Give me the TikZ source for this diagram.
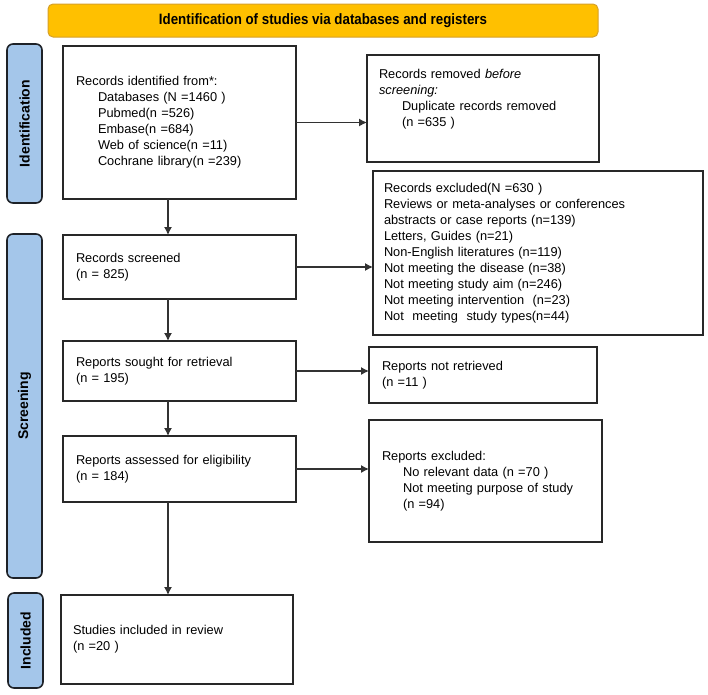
\documentclass[tikz,border=0pt]{standalone}
\usepackage{fontspec}
\setmainfont{Liberation Sans}
\usepackage{graphicx}
\usetikzlibrary{arrows.meta}
\definecolor{titlefill}{RGB}{255,192,0}
\definecolor{titledraw}{RGB}{214,160,40}
\definecolor{sidefill}{RGB}{164,198,234}
\definecolor{sidedraw}{RGB}{30,34,40}
\definecolor{boxdraw}{RGB}{40,40,40}
\definecolor{arrcol}{RGB}{50,50,50}
\begin{document}
\begin{tikzpicture}[x=1pt,y=-1pt,
  box/.style={draw=boxdraw, line width=1.5pt, fill=white, anchor=north west, align=left,
    outer sep=0pt, inner ysep=0pt, font=\fontsize{12.8}{16}\selectfont},
  side/.style={draw=sidedraw, fill=sidefill, line width=1.6pt, rounded corners=6pt,
    anchor=north west, outer sep=0pt, inner sep=0pt, minimum width=35pt,
    font=\fontsize{14}{16}\selectfont\bfseries},
  titlebox/.style={draw=titledraw, fill=titlefill, line width=1pt, rounded corners=5pt,
    minimum width=550pt, minimum height=33pt, inner sep=0pt},
  arr/.style={-{Latex[length=8pt,width=8pt]}, line width=1.2pt, arrcol}]
\useasboundingbox (0,0) rectangle (708,694);

\node[titlebox] (ttl) at (323,20.5) {\resizebox{328pt}{\height}{\fontsize{15}{18}\selectfont\bfseries Identification of studies via databases and registers}};

\node[side, minimum height=159pt] (sid) at (7,44) {\rotatebox{90}{Identification}};
\node[side, minimum height=344pt] (sscr) at (7,234) {\rotatebox{90}{Screening}};
\node[side, minimum height=95pt] (sinc) at (8,593) {\rotatebox{90}{Included}};

\node[box, minimum width=233pt, minimum height=153pt, text width=207pt, inner xsep=13pt] (b1) at (63,46)
  {Records identified from*:\\
   \hspace*{22pt}Databases (N =1460 )\\
   \hspace*{22pt}Pubmed(n =526)\\
   \hspace*{22pt}Embase(n =684)\\
   \hspace*{22pt}Web of science(n =11)\\
   \hspace*{22pt}Cochrane library(n =239)};

\node[box, minimum width=232pt, minimum height=107pt, text width=208pt, inner xsep=12pt] (rem) at (367,55)
  {Records removed \textit{before}\\
   \textit{screening:}\\
   \hspace*{23pt}Duplicate records removed\\
   \hspace*{23pt}(n =635 )\\
   \strut};

\node[box, minimum width=330pt, minimum height=164pt, text width=308pt, inner xsep=11pt] (exc) at (373,171)
  {Records excluded(N =630 )\\
   Reviews or meta-analyses or conferences\\
   abstracts or case reports (n=139)\\
   Letters, Guides (n=21)\\
   Non-English literatures (n=119)\\
   Not meeting the disease (n=38)\\
   Not meeting study aim (n=246)\\
   Not meeting intervention\ \ (n=23)\\
   Not\ \ meeting\ \ study types(n=44)};

\node[box, minimum width=233pt, minimum height=64pt, text width=207pt, inner xsep=13pt] (scr) at (63,235)
  {Records screened\\ (n = 825)};

\node[box, minimum width=233pt, minimum height=60pt, text width=207pt, inner xsep=13pt] (sou) at (63,341)
  {Reports sought for retrieval\\ (n = 195)};

\node[box, minimum width=228pt, minimum height=56pt, text width=202pt, inner xsep=13pt] (nr) at (369,347)
  {Reports not retrieved\\ (n =11 )};

\node[box, minimum width=233pt, minimum height=66pt, text width=207pt, inner xsep=13pt] (ass) at (63,436)
  {Reports assessed for eligibility\\ (n = 184)};

\node[box, minimum width=233pt, minimum height=122pt, text width=207pt, inner xsep=13pt] (rex) at (369,420)
  {Reports excluded:\\
   \hspace*{21pt}No relevant data (n =70 )\\
   \hspace*{21pt}Not meeting purpose of study\\
   \hspace*{21pt}(n =94)};

\node[box, minimum width=232pt, minimum height=89pt, text width=208pt, inner xsep=12pt] (inc) at (61,595)
  {Studies included in review\\ (n =20 )};

\coordinate (vx) at (168,0);
\draw[arr] (b1.east) -- (b1.east -| rem.west);
\draw[arr] (scr.east) -- (scr.east -| exc.west);
\draw[arr] (sou.east) -- (sou.east -| nr.west);
\draw[arr] (ass.east) -- (ass.east -| rex.west);
\draw[arr] (b1.south -| vx) -- (scr.north -| vx);
\draw[arr] (scr.south -| vx) -- (sou.north -| vx);
\draw[arr] (sou.south -| vx) -- (ass.north -| vx);
\draw[arr] (ass.south -| vx) -- (inc.north -| vx);
\end{tikzpicture}
\end{document}
